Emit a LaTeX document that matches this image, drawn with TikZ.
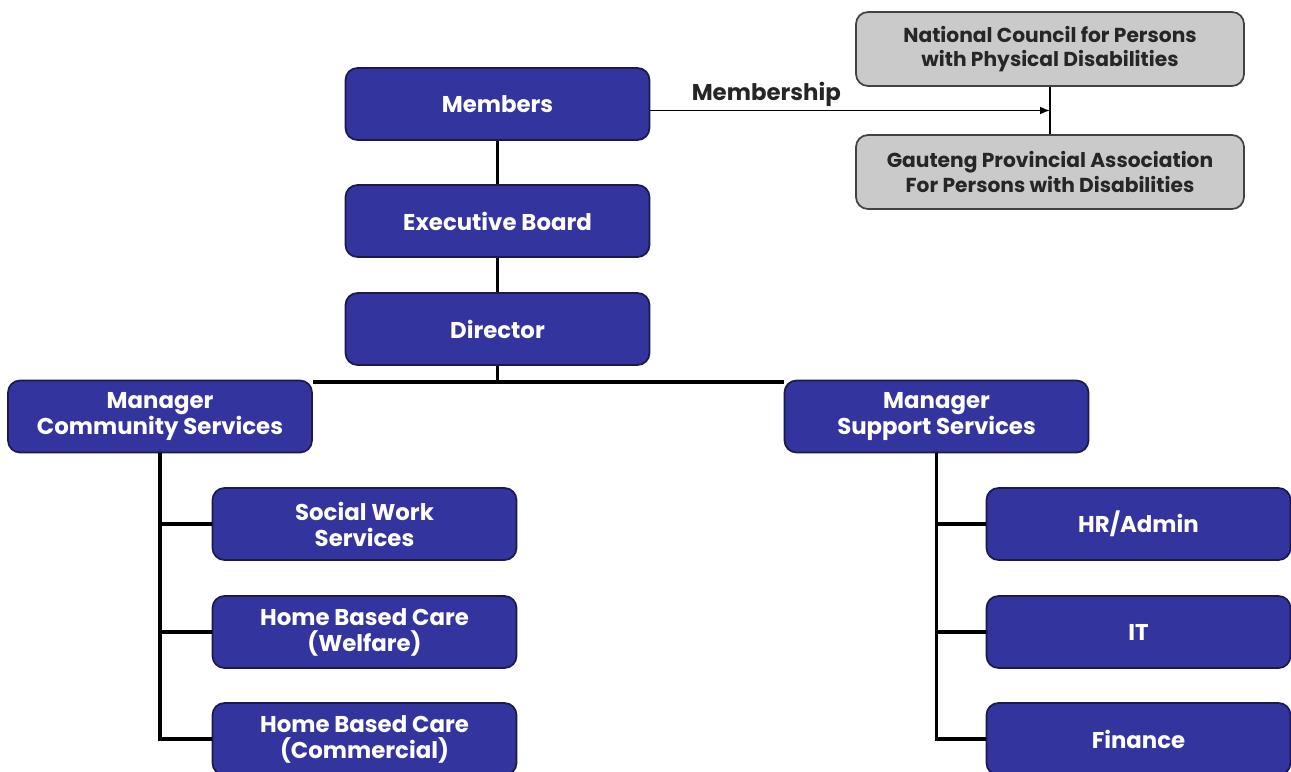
\documentclass[tikz,border=0pt]{standalone}
\usepackage{fontspec}
\setmainfont{Poppins}
\usetikzlibrary{shapes,arrows,arrows.meta}
\definecolor{boardblue}{RGB}{52,52,158}
\definecolor{boardedge}{RGB}{26,26,76}
\definecolor{partnergray}{RGB}{202,202,202}
\definecolor{partneredge}{RGB}{66,66,66}
\tikzstyle{unit} = [rectangle, draw=boardedge, line width=1pt, fill=boardblue,
    text=white, font=\fontsize{13}{14.8}\selectfont\bfseries, align=center,
    rounded corners=0.24cm, minimum width=6.08cm, minimum height=1.44cm, inner sep=0pt]
\tikzstyle{partner} = [rectangle, draw=partneredge, line width=1pt, fill=partnergray,
    text=black!85, font=\fontsize{11.5}{14}\selectfont\bfseries, align=center,
    rounded corners=0.24cm, minimum width=7.76cm, minimum height=1.48cm, inner sep=0pt]
\tikzstyle{trunk} = [draw, line width=2.2pt]
\tikzstyle{stem} = [draw, line width=1.4pt]
\tikzstyle{line} = [draw, line width=1pt, -{Latex[length=0.2cm,width=0.16cm]}]

\begin{document}
\begin{tikzpicture}[node distance = 2.16cm, auto]
    \useasboundingbox (0,0) rectangle (25.82,-15.44);
    % Place nodes
    \node [unit] at (9.95,-2.08) (members) {Members};
    \node [unit, below of=members, node distance=2.34cm] (board) {Executive Board};
    \node [unit, below of=board] (director) {Director};
    \node [unit] at (3.2,-8.33) (community) {Manager\\Community Services};
    \node [unit] at (18.73,-8.33) (support) {Manager\\Support Services};
    \node [unit] at (7.29,-10.48) (social) {Social Work\\Services};
    \node [unit, below of=social] (welfare) {Home Based Care\\(Welfare)};
    \node [unit, below of=welfare, node distance=2.14cm] (commercial) {Home Based Care\\(Commercial)};
    \node [unit] at (22.77,-10.48) (hr) {HR/Admin};
    \node [unit, below of=hr] (it) {IT};
    \node [unit, below of=it, node distance=2.14cm] (finance) {Finance};
    \node [partner] at (21.0,-0.98) (council) {National Council for Persons\\with Physical Disabilities};
    \node [partner, below of=council, node distance=2.46cm] (gauteng) {Gauteng Provincial Association\\For Persons with Disabilities};
    % Membership link
    \path [stem, line width=0.9pt] (council) -- (gauteng) coordinate [midway] (joint);
    \path [line] (members.east |- joint) -- (joint)
        node [pos=0.29, above, inner sep=2pt, text=black!85, font=\fontsize{13}{15}\selectfont\bfseries] (label) {Membership};
    % Chain of command
    \path [stem] (members) -- (board);
    \path [trunk] (board) -- (director);
    \path [trunk] (director) -- (director |- community.north);
    \path [trunk] ([yshift=-0.05cm]community.north east) -- ([yshift=-0.05cm]support.north west);
    \path [trunk] (community) -- (community |- commercial) -- (commercial);
    \path [trunk] (support) -- (support |- finance) -- (finance);
    \foreach \unit in {social, welfare}
        \path [trunk] (community |- \unit) -- (\unit);
    \foreach \unit in {hr, it}
        \path [trunk] (support |- \unit) -- (\unit);
\end{tikzpicture}
\end{document}
